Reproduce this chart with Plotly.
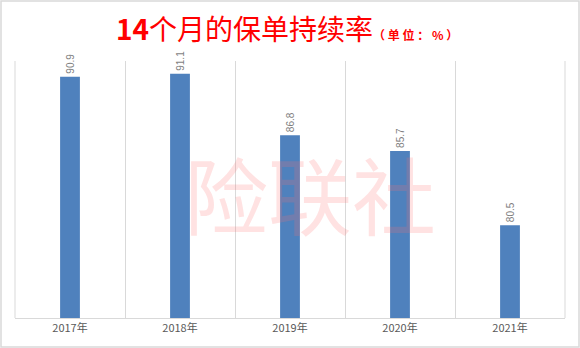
import plotly.graph_objects as go

categories = ["2017年", "2018年", "2019年", "2020年", "2021年"]
values = [90.9, 91.1, 86.8, 85.7, 80.5]
value_labels = ["90.9", "91.1", "86.8", "85.7", "80.5"]

fig = go.Figure()
fig.add_trace(go.Bar(
    x=categories, y=values, width=0.18,
    marker=dict(color="#4F81BD", line=dict(width=0)),
    text=value_labels, textposition="outside", textangle=-90,
    textfont=dict(family="Liberation Sans, Arial", size=10.5, color="#7F7F7F"),
    cliponaxis=False,
))

fig.update_layout(
    width=580, height=348,
    margin=dict(l=15, r=15, t=61, b=30),
    paper_bgcolor="white", plot_bgcolor="white",
    showlegend=False,
    font=dict(family="Noto Sans CJK SC"),
    xaxis=dict(
        type="category", range=[-0.5, 4.5],
        tickson="boundaries", showgrid=True, gridcolor="#D9D9D9", gridwidth=1,
        showline=True, linecolor="#D9D9D9", linewidth=1,
        ticks="", tickfont=dict(family="Noto Sans CJK SC", size=11, color="#595959"),
        fixedrange=True,
    ),
    yaxis=dict(
        range=[74, 92], showgrid=False, showticklabels=False, zeroline=False,
        showline=False, ticks="",
    ),
    shapes=[
        dict(type="rect", xref="paper", yref="paper", x0=-14/550, x1=1+14/550,
             y0=-29/257, y1=1+60/257, line=dict(color="#D9D9D9", width=1.5),
             fillcolor="rgba(0,0,0,0)", layer="below"),
        dict(type="line", xref="paper", yref="paper", x0=0, x1=0, y0=0, y1=1,
             line=dict(color="#D9D9D9", width=1)),
        dict(type="line", xref="paper", yref="paper", x0=1, x1=1, y0=0, y1=1,
             line=dict(color="#D9D9D9", width=1)),
    ],
    annotations=[
        dict(text="<b>14</b>个月的保单持续率<b><span style='font-size:12px'>（ 单 位 ： % ）</span></b>",
             xref="paper", yref="paper", x=(287-15)/550, y=1 + 33/257, xanchor="center", yanchor="middle",
             showarrow=False, font=dict(family="Noto Sans CJK SC", size=28, color="#FF0000")),
        dict(text="险联社", xref="paper", yref="paper", x=(310-15)/550, y=(318-192)/257,
             xanchor="center", yanchor="middle", showarrow=False,
             font=dict(family="Noto Sans CJK SC", size=84, color="rgba(255,110,110,0.2)")),
    ],
)

fig.write_html("out.html")
